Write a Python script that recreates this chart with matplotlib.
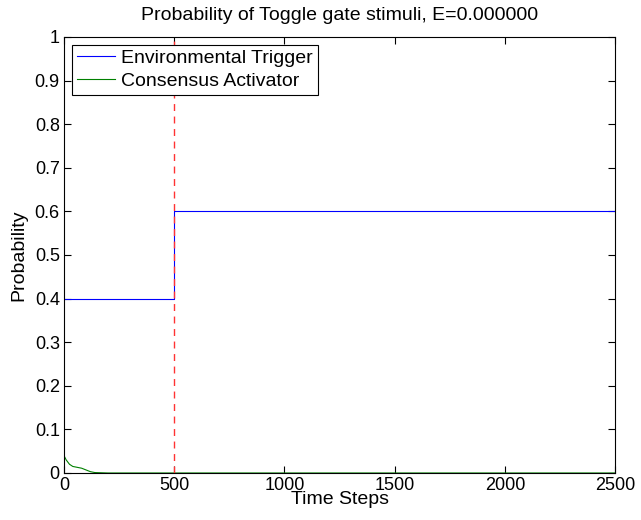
import numpy as np
import matplotlib
matplotlib.use('Agg')
from matplotlib import pyplot as plt

plt.rcParams['font.family'] = ['Liberation Sans', 'DejaVu Sans']

# environmental trigger probability (step at t=500)
env_t = [0, 500, 500, 2500]
env_p = [0.4, 0.4, 0.6, 0.6]
# consensus activator probability
cons_t = [0, 10, 25, 40, 60, 80, 100, 120, 140, 200, 500, 1000, 2500]
cons_p = [0.04, 0.03, 0.02, 0.015, 0.013, 0.011, 0.007, 0.003, 0.001, 0.0, 0.0, 0.0, 0.0]
switch_t = 500

fig = plt.figure(figsize=(6.41, 5.20), dpi=100)
ax = fig.add_axes([0.0998, 0.0904, 0.8598, 0.8385])
ax.plot(env_t, env_p, color='#0000ff', lw=0.8, label='Environmental Trigger')
ax.plot(cons_t, cons_p, color='#008000', lw=0.8, label='Consensus Activator')
ax.axvline(switch_t, color='#ff3333', ls=(0, (5, 4)), lw=1.0)
ax.set_xlim(0, 2500)
ax.set_ylim(0, 1)
ax.set_xticks([0, 500, 1000, 1500, 2000, 2500])
ax.set_yticks(np.arange(0, 11) / 10)
ax.set_yticklabels(['0', '0.1', '0.2', '0.3', '0.4', '0.5', '0.6', '0.7', '0.8', '0.9', '1'])
ax.tick_params(direction='in', top=True, right=True, labelsize=13, length=5, pad=3)
ax.set_xlabel('Time Steps', fontsize=14, labelpad=-2)
ax.set_ylabel('Probability', fontsize=14, labelpad=5)
ax.set_title('Probability of Toggle gate stimuli, E=0.000000', fontsize=14, pad=12)
leg = ax.legend(loc='upper left', fontsize=14, fancybox=False, edgecolor='black',
                framealpha=1, borderaxespad=0.4, handlelength=2.0, borderpad=0.25,
                labelspacing=0.28, handletextpad=0.3)
leg.get_frame().set_linewidth(0.8)
fig.savefig('out.png')
